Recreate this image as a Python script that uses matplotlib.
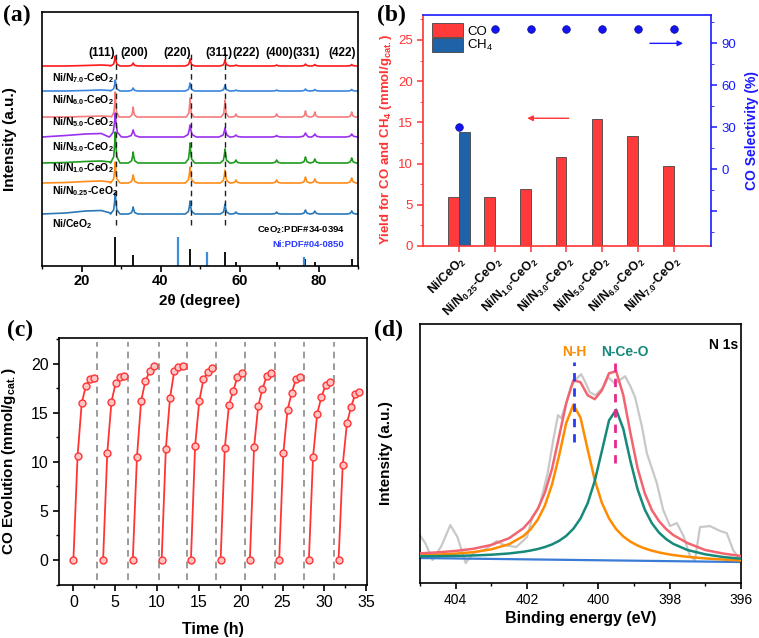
import numpy as np
import matplotlib
matplotlib.use('Agg')
import matplotlib.pyplot as plt
from matplotlib.ticker import MultipleLocator, FixedLocator, FuncFormatter
from matplotlib.patches import Patch

plt.rcParams['font.family'] = ['Liberation Sans', 'DejaVu Sans']
plt.rcParams['mathtext.default'] = 'regular'
plt.rcParams['axes.linewidth'] = 1.2
plt.rcParams['xtick.direction'] = 'out'
plt.rcParams['ytick.direction'] = 'out'

# ---------------- (a) XRD data ----------------
xrd_labels = ['Ni/N$_{7.0}$-CeO$_2$', 'Ni/N$_{6.0}$-CeO$_2$', 'Ni/N$_{5.0}$-CeO$_2$',
              'Ni/N$_{3.0}$-CeO$_2$', 'Ni/N$_{1.0}$-CeO$_2$', 'Ni/N$_{0.25}$-CeO$_2$',
              'Ni/CeO$_2$']
xrd_colors = ['#ff1a1a', '#3a86e0', '#f47c7c', '#9b30f0', '#1f9a1f', '#ff8c1a', '#2a78b8']
xrd_offsets = [200, 175, 149, 129, 103, 83, 52]
xrd_peak_pos = [28.55, 33.08, 47.48, 56.33, 59.09, 69.40, 76.70, 79.07, 88.40]
xrd_heights = [
    [10, 3, 7, 6, 1, 1, 2, 1.5, 1.5],
    [11, 3, 8, 6, 1, 1, 2, 1.5, 1.5],
    [25, 10, 19, 17, 3, 3, 6, 5, 5],
    [24, 7, 12, 9, 2, 1.5, 4, 3, 3],
    [31, 11, 20, 14, 3, 3, 6, 4, 5],
    [21, 8, 16, 13, 3, 3, 6, 4, 5],
    [21, 7, 13, 10, 2, 2, 4, 3, 3],
]
xrd_peak_width = [1.0, 1.0, 0.8, 1.3, 1.0, 1.0, 1.0]
xrd_bg_x = [10, 16, 21, 25, 27.3]
xrd_bg = [
    [0, 0, 0.5, 1, 0.5],
    [0, 0, 0.5, 1, 0.5],
    [0, 0, 0.5, 1, 0.5],
    [0, 1.5, 3, 3.5, 1],
    [0, 0.5, 1.5, 2, 1],
    [0, 0.5, 1.5, 2, 1],
    [0, 1, 3, 3.5, 1],
]
xrd_label_y = [188, 166, 144, 119, 98, 75, 42]
hkl_labels = ['(111)', '(200)', '(220)', '(311)', '(222)', '(400)', '(331)', '(422)']
hkl_x = [25.0, 33.4, 44.1, 54.8, 61.7, 70.0, 76.9, 86.0]
dashed_peaks = [28.75, 47.6, 56.4]
ceo2_ref_pos = [28.55, 33.08, 47.48, 56.33, 59.09, 69.40, 76.70, 79.07, 88.40]
ceo2_ref_h = [29, 11, 17, 14, 4, 4, 7, 4, 7]
ni_ref_pos = [44.5, 51.85, 76.37]
ni_ref_h = [29, 14, 9]

# ---------------- (b) yield data ----------------
b_categories = ['Ni/CeO$_2$', 'Ni/N$_{0.25}$-CeO$_2$', 'Ni/N$_{1.0}$-CeO$_2$',
                'Ni/N$_{3.0}$-CeO$_2$', 'Ni/N$_{5.0}$-CeO$_2$', 'Ni/N$_{6.0}$-CeO$_2$',
                'Ni/N$_{7.0}$-CeO$_2$']
co_yield = [5.9, 5.9, 6.9, 10.8, 15.4, 13.3, 9.75]
ch4_yield = [13.8, 0, 0, 0, 0, 0, 0]
co_selectivity = [30, 100, 100, 100, 100, 100, 100]

# ---------------- (c) cycling data ----------------
cycle_times = [
    [0.0, 0.5, 1.0, 1.5, 2.0, 2.5],
    [3.55, 4.05, 4.55, 5.05, 5.55, 6.05],
    [7.1, 7.6, 8.1, 8.6, 9.1, 9.6],
    [10.55, 11.05, 11.55, 12.05, 12.55, 13.05],
    [14.05, 14.55, 15.05, 15.55, 16.05, 16.55],
    [17.6, 18.1, 18.6, 19.1, 19.6, 20.1],
    [21.1, 21.6, 22.1, 22.6, 23.1, 23.6],
    [24.6, 25.1, 25.6, 26.1, 26.6, 27.1],
    [28.15, 28.65, 29.15, 29.65, 30.15, 30.65],
    [31.7, 32.2, 32.7, 33.2, 33.7, 34.2],
]
cycle_co = [
    [0, 10.6, 16.0, 17.75, 18.45, 18.5],
    [0, 10.9, 16.1, 18.0, 18.6, 18.75],
    [0, 10.5, 16.2, 18.2, 19.2, 19.7],
    [0, 11.3, 16.5, 19.2, 19.6, 19.75],
    [0, 11.6, 16.2, 18.4, 19.1, 19.5],
    [0, 11.4, 15.8, 17.2, 18.6, 19.0],
    [0, 11.5, 15.7, 17.4, 18.7, 19.0],
    [0, 10.9, 15.3, 17.0, 18.4, 18.6],
    [0, 10.5, 14.9, 16.6, 17.8, 18.1],
    [0, 9.7, 13.9, 15.6, 16.9, 17.1],
]
cycle_separators = [2.8, 6.5, 10.2, 13.6, 17.05, 20.55, 24.05, 27.55, 31.15]

# ---------------- (d) XPS N 1s data ----------------
xps_energy = [405.0, 404.5, 404.0, 403.5, 403.0, 402.5, 402.1, 401.9, 401.7, 401.5,
              401.3, 401.1, 400.9, 400.7, 400.5, 400.3, 400.1, 399.9, 399.7, 399.5,
              399.3, 399.1, 398.9, 398.7, 398.5, 398.3, 398.1, 397.9, 397.5, 397.0,
              396.5, 396.0]
xps_nh = [27.9, 28.5, 29.4, 30.9, 33.7, 38.9, 47.0, 53.7, 63.3, 77.5,
          98.4, 127.5, 160.2, 178.4, 165.6, 133.8, 103.0, 80.2, 64.6, 53.9,
          46.6, 41.4, 37.5, 34.6, 32.4, 30.6, 29.2, 28.0, 26.2, 24.6,
          23.5, 22.5]
xps_nceo = [26.8, 26.9, 27.1, 27.6, 28.3, 29.6, 31.3, 32.5, 34.0, 36.0,
            38.6, 42.2, 47.2, 54.3, 64.6, 79.8, 102.2, 132.3, 162.8, 173.5,
            154.3, 122.1, 93.9, 73.7, 59.9, 50.5, 44.0, 39.2, 33.0, 28.7,
            26.0, 24.3]
xps_envelope = [29.7, 30.7, 32.1, 34.3, 38.1, 44.9, 54.9, 62.9, 74.1, 90.4,
                114.1, 146.9, 180, 203, 201, 188, 184, 193, 210, 212,
                188, 150, 115, 90, 73, 62, 54, 48, 40, 33,
                29.5, 27]
xps_bg_energy = [405.0, 396.0]
xps_bg = [25, 21]
raw_energy = [405.05, 404.85, 404.65, 404.4, 404.15, 403.95, 403.72, 403.5, 403.2, 402.85,
              402.65, 402.3, 402.0, 401.85, 401.65, 401.42, 401.25, 401.13, 401.04, 400.9,
              400.76, 400.6, 400.48, 400.35, 400.24, 400.08, 399.86, 399.72, 399.55, 399.4,
              399.25, 399.1, 398.97, 398.78, 398.64, 398.36, 398.18, 397.99, 397.8, 397.61,
              397.43, 397.29, 397.15, 396.87, 396.58, 396.4, 396.22, 396.03]
raw_intensity = [50, 40, 23, 37, 58, 46, 20, 30, 33, 42,
                 38, 36, 46, 66, 77, 110, 146, 168, 165, 180,
                 197, 205, 209, 200, 191, 188, 196, 206, 200, 203,
                 207, 197, 186, 157, 130, 100, 73, 57, 60, 47,
                 27, 23, 56, 57, 52, 50, 33, 23]
nh_center = 400.69
nceo_center = 399.53

# ---------------- figure ----------------
W, H = 759, 638
fig = plt.figure(figsize=(W / 100, H / 100), dpi=100)


def ax_px(l, t, r, b):
    return fig.add_axes([l / W, 1 - b / H, (r - l) / W, (b - t) / H])


def panel_label(x, y, s):
    fig.text(x / W, 1 - y / H, s, family='Liberation Serif', weight='bold',
             fontsize=17, ha='left', va='center')


# ===== (a) =====
axa = ax_px(42, 12, 358, 266)
PEAK_DX = [-1.2, -0.4, -0.15, 0.0, 0.15, 0.4, 1.2]
PEAK_FRAC = [0.0, 0.2, 0.6, 1.0, 0.6, 0.2, 0.0]
for lab, col, base, hts, wd, bg, ly in zip(xrd_labels, xrd_colors, xrd_offsets,
                                           xrd_heights, xrd_peak_width, xrd_bg, xrd_label_y):
    xs = list(xrd_bg_x)
    ys = [base + o for o in bg]
    for p, h in zip(xrd_peak_pos, hts):
        for dx, fr in zip(PEAK_DX, PEAK_FRAC):
            xs.append(p + dx * wd)
            ys.append(base + fr * h)
    xs.append(90)
    ys.append(base)
    order = np.argsort(xs)
    axa.plot(np.array(xs)[order], np.array(ys)[order], color=col, lw=1.2)
    axa.text(12.6, ly, lab, fontsize=7.5, weight='bold', ha='left', va='center')

for xp in dashed_peaks:
    axa.plot([xp, xp], [41, 216], color='#222222', lw=1.0, ls=(0, (4, 3)))
for s, xh in zip(hkl_labels, hkl_x):
    axa.text(xh, 213, s, fontsize=8.5, weight='bold', ha='center', va='center')
axa.vlines(ceo2_ref_pos, 0, ceo2_ref_h, color='#111111', lw=1.4)
axa.vlines(ni_ref_pos, 0, ni_ref_h, color='#3b8fd9', lw=1.6)
axa.text(86.6, 36, 'CeO$_2$:PDF#34-0394', fontsize=6.8, weight='bold', ha='right', va='center')
axa.text(86.4, 22, 'Ni:PDF#04-0850', fontsize=6.8, weight='bold', ha='right',
         va='center', color='#2b3bff')
axa.set_xlim(10, 90)
axa.set_ylim(0, 254)
axa.set_yticks([])
axa.xaxis.set_major_locator(MultipleLocator(20))
axa.xaxis.set_minor_locator(MultipleLocator(10))
axa.tick_params(axis='x', which='major', length=4, width=1.2, labelsize=10.5, pad=2)
axa.tick_params(axis='x', which='minor', length=2.5, width=1.0)
for t in axa.get_xticklabels():
    t.set_fontweight('bold')
axa.set_xlabel('2θ (degree)', fontsize=11, weight='bold')
axa.xaxis.set_label_coords(0.5, -0.11)
axa.set_ylabel('Intensity (a.u.)', fontsize=11, weight='bold')
axa.yaxis.set_label_coords(-0.079, 0.5)
panel_label(3, 15, '(a)')

# ===== (b) =====
RED = '#ff3333'
BLUE = '#1a1aff'
axb = ax_px(423, 15, 711, 246)
axb2 = axb.twinx()
xb = np.arange(1, len(b_categories) + 1)
bw = 0.3
axb.bar(xb - bw / 2, co_yield, width=bw, color='#ff3a3a', edgecolor='#444444', lw=0.6, zorder=2)
axb.bar(xb + bw / 2, ch4_yield, width=bw, color='#1f62a8', edgecolor='#444444', lw=0.6, zorder=2)
axb.set_xlim(0, 8.03)
axb.set_ylim(0, 28.03)
axb.set_xticks(xb)
axb.set_xticklabels(b_categories, rotation=45, ha='right', rotation_mode='anchor',
                    fontsize=8.8, weight='bold')
axb.yaxis.set_major_locator(MultipleLocator(5))
axb.yaxis.set_minor_locator(MultipleLocator(2.5))
axb.tick_params(axis='y', colors=RED, labelsize=9.5, length=4, width=1.1)
axb.tick_params(axis='y', which='minor', colors=RED, length=2.5)
axb.tick_params(axis='x', colors=RED, length=4, width=1.1, labelcolor='black', pad=2)
axb.spines['left'].set_color(RED)
axb.spines['bottom'].set_color(RED)
axb.spines['top'].set_visible(False)
axb.spines['right'].set_visible(False)
axb.set_ylabel('Yield for CO and CH$_4$ (mmol/g$_{cat.}$)', color=RED, fontsize=9.5,
               weight='bold')
axb.yaxis.set_label_coords(-0.1, 0.46)

axb2.scatter(xb, co_selectivity, s=30, color='#1414f0', edgecolor='#0a0a90', lw=0.5, zorder=3)
axb2.set_ylim(-55.1, 110.3)
axb2.yaxis.set_major_locator(FixedLocator([-30, 0, 30, 60, 90]))
axb2.yaxis.set_major_formatter(FuncFormatter(lambda v, p: '' if v < 0 else f'{v:.0f}'))
axb2.yaxis.set_minor_locator(FixedLocator([-45, -15, 15, 45, 75, 105]))
axb2.tick_params(axis='y', colors=BLUE, labelsize=9.5, length=4, width=1.1)
axb2.tick_params(axis='y', which='minor', colors=BLUE, length=2.5)
axb2.spines['right'].set_color(BLUE)
axb2.spines['top'].set_color(BLUE)
axb2.spines['left'].set_visible(False)
axb2.spines['bottom'].set_visible(False)
axb2.set_ylabel('CO Selectivity (%)', color=BLUE, fontsize=10, weight='bold')
axb2.yaxis.set_label_coords(1.118, 0.5)

axb.annotate('', xy=(2.83, 15.5), xytext=(4.14, 15.5),
             arrowprops=dict(arrowstyle='-|>', color=RED, lw=1.0, mutation_scale=8))
axb2.annotate('', xy=(7.33, 90), xytext=(6.25, 90),
              arrowprops=dict(arrowstyle='-|>', color=BLUE, lw=1.0, mutation_scale=8))
leg = axb.legend(handles=[Patch(fc='#ff3a3a', ec='#444444', lw=0.6, label='CO'),
                          Patch(fc='#1f62a8', ec='#444444', lw=0.6, label='CH$_4$')],
                 loc='upper left', bbox_to_anchor=(0.03, 0.965), frameon=False,
                 handlelength=2.4, handleheight=1.3, labelspacing=0.0, handletextpad=0.3,
                 fontsize=9.5, borderaxespad=0, borderpad=0)
panel_label(377, 15, '(b)')

# ===== (c) =====
axc = ax_px(59, 338, 367, 585)
for xs_, ys_ in zip(cycle_times, cycle_co):
    axc.plot(xs_, ys_, color='#ff3535', lw=1.3, marker='o', ms=5,
             mfc='#ffc4c4', mec='#ff3535', mew=1.0, zorder=3)
for xsep in cycle_separators:
    axc.axvline(xsep, ymin=0.02, ymax=0.985, color='#8a8a8a', lw=1.2, ls=(0, (4, 3)), zorder=1)
axc.set_xlim(-1.72, 35.1)
axc.set_ylim(-2.54, 22.6)
axc.xaxis.set_major_locator(MultipleLocator(5))
axc.xaxis.set_minor_locator(MultipleLocator(2.5))
axc.yaxis.set_major_locator(MultipleLocator(5))
axc.yaxis.set_minor_locator(MultipleLocator(2.5))
axc.tick_params(which='major', length=4, width=1.2, labelsize=11.5)
axc.tick_params(which='minor', length=2.5, width=1.0)
axc.set_xlabel('Time (h)', fontsize=11.5, weight='bold')
axc.xaxis.set_label_coords(0.5, -0.148)
axc.set_ylabel('CO Evolution (mmol/g$_{cat.}$)', fontsize=11, weight='bold')
axc.yaxis.set_label_coords(-0.133, 0.5)
panel_label(7, 330, '(c)')

# ===== (d) =====
axd = ax_px(420, 324, 741, 583)
axd.plot(raw_energy, raw_intensity, color='#c8c8c8', lw=1.6, zorder=1)
axd.plot(xps_bg_energy, xps_bg, color='#3a7bd5', lw=1.6, zorder=2)
axd.plot(xps_energy, xps_nh, color='#ff8c00', lw=1.8, zorder=3)
axd.plot(xps_energy, xps_nceo, color='#168a7a', lw=1.8, zorder=3)
axd.plot(xps_energy, xps_envelope, color='#f26470', lw=1.8, zorder=4)
axd.plot([nh_center, nh_center], [141.6, 221.6], color='#2a3cf0', lw=2.0, ls=(0, (3, 2.5)), zorder=5)
axd.plot([nceo_center, nceo_center], [120, 226.6], color='#e8288c', lw=2.0, ls=(0, (3, 2.5)), zorder=5)
axd.text(400.68, 231, 'N-H', color='#ff8c00', fontsize=10, weight='bold', ha='center', va='center')
axd.text(399.25, 231, 'N-Ce-O', color='#168a7a', fontsize=10, weight='bold', ha='center', va='center')
axd.text(396.5, 238, 'N 1s', color='black', fontsize=10, weight='bold', ha='center', va='center')
axd.set_xlim(405, 396)
axd.set_ylim(0, 259.3)
axd.set_yticks([])
axd.xaxis.set_major_locator(MultipleLocator(2))
axd.xaxis.set_minor_locator(MultipleLocator(1))
axd.tick_params(axis='x', which='major', length=4, width=1.2, labelsize=10)
axd.tick_params(axis='x', which='minor', length=2.5, width=1.0)
axd.set_xlabel('Binding energy (eV)', fontsize=11.5, weight='bold')
axd.xaxis.set_label_coords(0.5, -0.11)
axd.set_ylabel('Intensity (a.u.)', fontsize=11, weight='bold')
axd.yaxis.set_label_coords(-0.084, 0.5)
panel_label(374, 330, '(d)')

fig.savefig('out.png', dpi=100)
